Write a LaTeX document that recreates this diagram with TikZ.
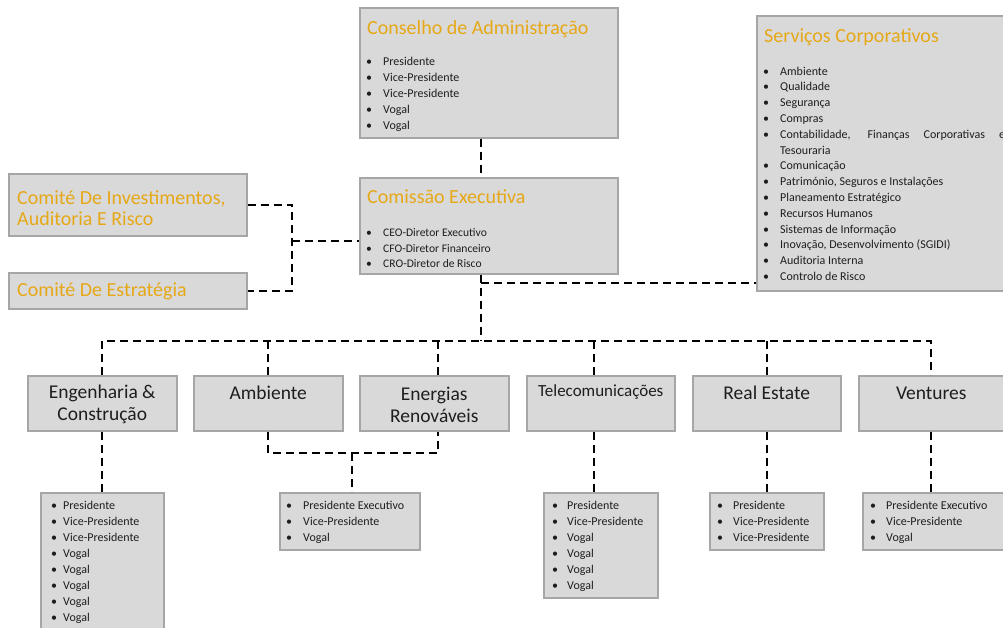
\documentclass[tikz,border=0pt]{standalone}
\usepackage{fontspec}
\setmainfont{Carlito}
\usetikzlibrary{calc}
\definecolor{boxgray}{HTML}{D9D9D9}
\definecolor{edgegray}{HTML}{A6A6A6}
\definecolor{titlegold}{HTML}{E6A817}
\definecolor{inkdark}{HTML}{1E1E1E}
\newenvironment{dotlist}[1][17pt]{\begin{list}{\textbullet}{\setlength{\leftmargin}{#1}\setlength{\labelwidth}{#1}\setlength{\labelsep}{0pt}\setlength{\itemsep}{0pt}\setlength{\parsep}{0pt}\setlength{\topsep}{0pt}\setlength{\partopsep}{0pt}\renewcommand{\makelabel}[1]{##1\hfil}}}{\end{list}}
\tikzset{
  orgbox/.style={draw=edgegray, fill=boxgray, line width=1.5pt, anchor=north west, inner sep=0pt},
  boxtitle/.style={text=titlegold, font=\fontsize{20}{21}\selectfont, anchor=west, align=left, inner sep=0pt},
  unitname/.style={text=inkdark, font=\fontsize{19.5}{22}\selectfont, align=center, inner sep=0pt},
  roles/.style={text=inkdark, font=\fontsize{12}{16}\selectfont, anchor=north west, inner sep=0pt, text width=#1, align=justify},
  roles/.default=200pt,
  link/.style={line width=2pt, dash pattern=on 8pt off 5pt}
}

\begin{document}
\begin{tikzpicture}[x={(1pt,0)}, y={(0,-1pt)}]
  \useasboundingbox (0,0) rectangle (1003,627);
  \clip (0,0) rectangle (1003,627);

  \node[orgbox, minimum width=258, minimum height=130] (cons) at (359,7) {};
  \node[boxtitle] (constitle) at ($(cons.north west)+(8,22)$) {Conselho de Administração};
  \node[roles] (consroles) at ($(cons.north west)+(7,42)$) {\begin{dotlist}\item Presidente \item Vice-Presidente \item Vice-Presidente \item Vogal \item Vogal\end{dotlist}};

  \node[orgbox, minimum width=262, minimum height=275] (svc) at (756,15) {};
  \node[boxtitle] (svctitle) at ($(svc.north west)+(8,22)$) {Serviços Corporativos};
  \node[roles=242pt, font=\fontsize{12}{15.8}\selectfont] (svcroles) at ($(svc.north west)+(7,44)$) {\hyphenpenalty=10000\relax\tolerance=10000\relax\begin{dotlist}\item Ambiente \item Qualidade \item Segurança \item Compras \item Contabilidade, Finanças Corporativas e Tesouraria \item Comunicação \item Património, Seguros e Instalações \item Planeamento Estratégico \item Recursos Humanos \item Sistemas de Informação \item Inovação, Desenvolvimento (SGIDI) \item Auditoria Interna \item Controlo de Risco\end{dotlist}};

  \node[orgbox, minimum width=258, minimum height=96] (com) at (359,177) {};
  \node[boxtitle] (comtitle) at ($(com.north west)+(8,20)$) {Comissão Executiva};
  \node[roles, font=\fontsize{11.6}{15.5}\selectfont] (comroles) at ($(com.north west)+(7,44)$) {\begin{dotlist}\item CEO-Diretor Executivo \item CFO-Diretor Financeiro \item CRO-Diretor de Risco\end{dotlist}};

  \node[orgbox, minimum width=238, minimum height=62] (cinv) at (8,173) {};
  \node[boxtitle] (cinvtitle) at ($(cinv.west)+(9,3)$) {Comité De Investimentos,\\Auditoria E Risco};
  \node[orgbox, minimum width=238, minimum height=36] (cest) at (8,272) {};
  \node[boxtitle] (cesttitle) at ($(cest.west)+(9,1)$) {Comité De Estratégia};

  \node[orgbox, minimum width=149, minimum height=55] (eng) at (27,375) {};
  \node[unitname] (engname) at ($(eng.center)+(0,1.5)$) {Engenharia \&\\Construção};
  \node[orgbox, minimum width=149, minimum height=55] (amb) at (193,375) {};
  \node[unitname] (ambname) at ($(amb.north)+(0,18)$) {Ambiente};
  \node[orgbox, minimum width=149, minimum height=55] (ene) at (359,375) {};
  \node[unitname] (enename) at ($(ene.center)+(0,1.5)$) {Energias\\Renováveis};
  \node[orgbox, minimum width=148, minimum height=55] (tel) at (526,375) {};
  \node[unitname, font=\fontsize{17}{20}\selectfont] (telname) at ($(tel.north)+(0,17)$) {Telecomunicações};
  \node[orgbox, minimum width=148, minimum height=55] (rea) at (692,375) {};
  \node[unitname] (reaname) at ($(rea.north)+(0,18)$) {Real Estate};
  \node[orgbox, minimum width=145, minimum height=55] (vnt) at (858,375) {};
  \node[unitname] (vntname) at ($(vnt.north)+(0,18)$) {Ventures};

  \node[orgbox, minimum width=123, minimum height=140] (englist) at (40,492) {};
  \node[roles] (engroles) at ($(englist.north west)+(11,1)$) {\begin{dotlist}[12pt]\item Presidente \item Vice-Presidente \item Vice-Presidente \item Vogal \item Vogal \item Vogal \item Vogal \item Vogal\end{dotlist}};
  \node[orgbox, minimum width=140, minimum height=57] (enelist) at (279,492) {};
  \node[roles] (eneroles) at ($(enelist.north west)+(7,1)$) {\begin{dotlist}\item Presidente Executivo \item Vice-Presidente \item Vogal\end{dotlist}};
  \node[orgbox, minimum width=114, minimum height=105] (tellist) at (543,492) {};
  \node[roles] (telroles) at ($(tellist.north west)+(9,1)$) {\begin{dotlist}[15pt]\item Presidente \item Vice-Presidente \item Vogal \item Vogal \item Vogal \item Vogal\end{dotlist}};
  \node[orgbox, minimum width=114, minimum height=57] (realist) at (709,492) {};
  \node[roles] (rearoles) at ($(realist.north west)+(8,1)$) {\begin{dotlist}[16pt]\item Presidente \item Vice-Presidente \item Vice-Presidente\end{dotlist}};
  \node[orgbox, minimum width=141, minimum height=57] (vntlist) at (862,492) {};
  \node[roles] (vntroles) at ($(vntlist.north west)+(8,1)$) {\begin{dotlist}[16pt]\item Presidente Executivo \item Vice-Presidente \item Vogal\end{dotlist}};

  \coordinate (spine) at (481,0);
  \coordinate (bus) at (0,341);
  \coordinate (svcjoin) at (481,283);
  \coordinate (cmtjoin) at (292,241);
  \coordinate (enejoin) at (352,453);
  \coordinate (enedrop) at (438,0);
  \coordinate (teldrop) at (594,0);

  \draw[link] (cons.south -| spine) -- (com.north -| spine);
  \draw[link] (com.south -| spine) -- (spine |- bus);
  \draw[link] (svcjoin) -- (svc.west |- svcjoin);
  \draw[link] (cinv.east) -| (cmtjoin) |- (cest.east);
  \draw[link] (cmtjoin) -- (com.west |- cmtjoin);

  \draw[link] (eng.north) |- (vnt.north |- bus) -- (vnt.north);
  \draw[link] (amb.north) -- (amb.north |- bus);
  \draw[link] (ene.north -| enedrop) -- (enedrop |- bus);
  \draw[link] (tel.north -| teldrop) -- (teldrop |- bus);
  \draw[link] (rea.north) -- (rea.north |- bus);

  \draw[link] (eng.south) -- (eng.south |- englist.north);
  \draw[link] (amb.south) |- (enejoin) -| (ene.south -| enedrop);
  \draw[link] (enejoin) -- (enejoin |- enelist.north);
  \draw[link] (tel.south -| teldrop) -- (teldrop |- tellist.north);
  \draw[link] (rea.south) -- (rea.south |- realist.north);
  \draw[link] (vnt.south) -- (vnt.south |- vntlist.north);
\end{tikzpicture}
\end{document}
